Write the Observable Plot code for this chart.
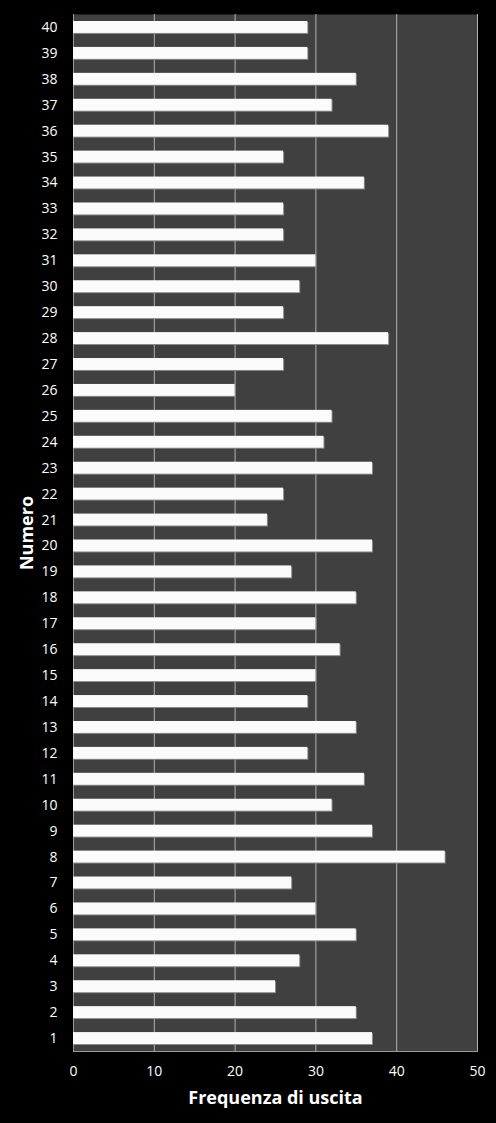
<!DOCTYPE html>
<html>
<head>
<meta charset="utf-8">
<script src="https://cdn.jsdelivr.net/npm/d3@7"></script>
<script src="https://cdn.jsdelivr.net/npm/@observablehq/plot@0.6"></script>
<style>
  body { margin: 0; background: #000; }
  #chart svg { display: block; }
</style>
</head>
<body>
<div id="chart"></div>
<script>
// numeri estratti (1..40) e frequenza di uscita
let numeri = d3.range(1, 41);
let frequenze = [
  37, 35, 25, 28, 35, 30, 27, 46, 37, 32,
  36, 29, 35, 29, 30, 33, 30, 35, 27, 37,
  24, 26, 37, 31, 32, 20, 26, 39, 26, 28,
  30, 26, 26, 36, 26, 39, 32, 35, 29, 29
];
let xTicks = [0, 10, 20, 30, 40, 50];

let data = numeri.map((n, i) => ({ numero: n, freq: frequenze[i] }));

let chart = Plot.plot({
  width: 496,
  height: 1123,
  marginLeft: 73,
  marginRight: 19,
  marginTop: 14,
  marginBottom: 72,
  style: { background: "#000", color: "#fff", fontFamily: "'Open Sans', sans-serif" },
  x: { domain: [0, 50], ticks: xTicks },
  y: { domain: numeri.slice().reverse(), paddingInner: 0.54, paddingOuter: 0.27, round: false },
  marks: [
    Plot.frame({ fill: "#404040", stroke: null }),
    Plot.gridX(xTicks, { stroke: "#b0b0b0", strokeOpacity: 1, strokeWidth: 1 }),
    Plot.ruleX([0], { stroke: "#999" }),
    Plot.frame({ anchor: "bottom", stroke: "#999" }),
    // ombra
    Plot.barX(data, { x: "freq", y: "numero", fill: "#8a8a8a", dx: 1, dy: 1 }),
    Plot.barX(data, { x: "freq", y: "numero", fill: "#fbfbfb" }),
    Plot.axisX(xTicks, {
      tickSize: 0, tickPadding: 15, fontSize: 14, fill: "#fff",
      label: null
    }),
    Plot.axisY({
      tickSize: 0, tickPadding: 16, fontSize: 14, fill: "#fff",
      label: null
    }),
    Plot.text(["Frequenza di uscita"], {
      frameAnchor: "bottom", dy: 52, fontSize: 18, fontWeight: "bold", fill: "#fff"
    }),
    Plot.text(["Numero"], {
      frameAnchor: "left", textAnchor: "middle", dx: -46, rotate: -90,
      fontSize: 18, fontWeight: "bold", fill: "#fff"
    })
  ]
});
d3.select("#chart").append(() => chart);
</script>
</body>
</html>
